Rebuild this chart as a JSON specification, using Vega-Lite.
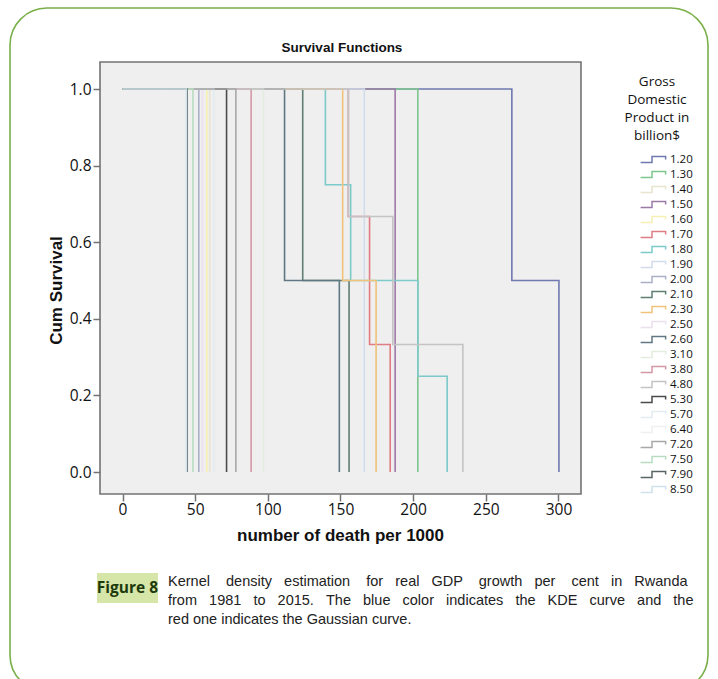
{
  "$schema": "https://vega.github.io/schema/vega-lite/v6.json",
  "width": 698,
  "height": 684,
  "autosize": {"type": "none"},
  "padding": {"left": 10, "top": 8, "right": 10, "bottom": 0},
  "background": "white",
  "config": {
    "view": {"stroke": "#7ab04a", "strokeWidth": 1.6, "cornerRadius": 37, "fill": "white"},
    "font": "Liberation Sans"
  },
  "layer": [
    {
      "data": {"values": [{}]},
      "mark": {"type": "rect", "fill": "#efefef", "stroke": "#737373", "strokeWidth": 1.6},
      "encoding": {
        "x": {
          "datum": -15.48, "type": "quantitative",
          "scale": {"domain": [-77.41, 402.87], "nice": false, "zero": false},
          "axis": {
            "orient": "bottom", "offset": -198, "domain": false, "grid": false, "zindex": 1,
            "values": [0, 50, 100, 150, 200, 250, 300],
            "tickSize": 7, "tickColor": "#737373", "tickWidth": 1.5,
            "labelFont": "Open Sans", "labelFontSize": 15.5, "labelColor": "#111", "labelPadding": 1,
            "title": "number of death per 1000", "titleFont": "Liberation Sans", "titleFontSize": 17, "titleFontWeight": "bold", "titleColor": "#111",
            "titleX": 330, "titleY": 46, "titleBaseline": "alphabetic", "titleAlign": "center"
          }
        },
        "x2": {"datum": 315.48},
        "y": {
          "datum": -0.05744, "type": "quantitative",
          "scale": {"domain": [-0.57441, 1.21149], "nice": false, "zero": false},
          "axis": {
            "orient": "left", "offset": -90, "domain": false, "grid": false, "zindex": 1,
            "values": [0, 0.2, 0.4, 0.6, 0.8, 1.0], "format": ".1f",
            "tickSize": 7, "tickColor": "#737373", "tickWidth": 1.5,
            "labelFont": "Open Sans", "labelFontSize": 15.5, "labelColor": "#111", "labelPadding": 2,
            "title": "Cum Survival", "titleFont": "Liberation Sans", "titleFontSize": 17, "titleFontWeight": "bold", "titleColor": "#111",
            "titleX": -39, "titleY": 282, "titleAngle": 270, "titleBaseline": "alphabetic", "titleAlign": "center"
          }
        },
        "y2": {"datum": 1.0705}
      }
    },
    {
      "data": {
        "values": [
          {"g": "1.20", "t": 0, "s": 1}, {"g": "1.20", "t": 267.9, "s": 0.5}, {"g": "1.20", "t": 300.3, "s": 0},
          {"g": "1.30", "t": 0, "s": 1}, {"g": "1.30", "t": 203.2, "s": 0},
          {"g": "1.40", "t": 0, "s": 1}, {"g": "1.40", "t": 60, "s": 0},
          {"g": "1.50", "t": 0, "s": 1}, {"g": "1.50", "t": 187.6, "s": 0},
          {"g": "1.60", "t": 0, "s": 1}, {"g": "1.60", "t": 58, "s": 0},
          {"g": "1.70", "t": 0, "s": 1}, {"g": "1.70", "t": 155.4, "s": 0.667}, {"g": "1.70", "t": 170, "s": 0.333}, {"g": "1.70", "t": 184.2, "s": 0},
          {"g": "1.80", "t": 0, "s": 1}, {"g": "1.80", "t": 139.6, "s": 0.75}, {"g": "1.80", "t": 157, "s": 0.5}, {"g": "1.80", "t": 203.2, "s": 0.25}, {"g": "1.80", "t": 223.4, "s": 0},
          {"g": "1.90", "t": 0, "s": 1}, {"g": "1.90", "t": 166.4, "s": 0},
          {"g": "2.00", "t": 0, "s": 1}, {"g": "2.00", "t": 52.5, "s": 0},
          {"g": "2.10", "t": 0, "s": 1}, {"g": "2.10", "t": 124, "s": 0.5}, {"g": "2.10", "t": 155.9, "s": 0},
          {"g": "2.30", "t": 0, "s": 1}, {"g": "2.30", "t": 151.5, "s": 0.5}, {"g": "2.30", "t": 174.5, "s": 0},
          {"g": "2.50", "t": 0, "s": 1}, {"g": "2.50", "t": 55, "s": 0},
          {"g": "2.60", "t": 0, "s": 1}, {"g": "2.60", "t": 111.5, "s": 0.5}, {"g": "2.60", "t": 149.2, "s": 0},
          {"g": "3.10", "t": 0, "s": 1}, {"g": "3.10", "t": 97, "s": 0},
          {"g": "3.80", "t": 0, "s": 1}, {"g": "3.80", "t": 88.5, "s": 0},
          {"g": "4.80", "t": 0, "s": 1}, {"g": "4.80", "t": 155.4, "s": 0.667}, {"g": "4.80", "t": 186, "s": 0.333}, {"g": "4.80", "t": 234.2, "s": 0},
          {"g": "5.30", "t": 0, "s": 1}, {"g": "5.30", "t": 71.6, "s": 0},
          {"g": "5.70", "t": 0, "s": 1}, {"g": "5.70", "t": 63, "s": 0},
          {"g": "6.40", "t": 0, "s": 1}, {"g": "6.40", "t": 30, "s": 0},
          {"g": "7.20", "t": 0, "s": 1}, {"g": "7.20", "t": 78, "s": 0},
          {"g": "7.50", "t": 0, "s": 1}, {"g": "7.50", "t": 48.5, "s": 0},
          {"g": "7.90", "t": 0, "s": 1}, {"g": "7.90", "t": 44.5, "s": 0},
          {"g": "8.50", "t": 0, "s": 1}, {"g": "8.50", "t": 44, "s": 0}
        ]
      },
      "mark": {"type": "line", "interpolate": "step-after", "strokeWidth": 1.6},
      "encoding": {
        "x": {
          "field": "t", "type": "quantitative",
          "scale": {"domain": [-77.41, 402.87], "nice": false, "zero": false},
          "axis": {
            "orient": "bottom", "offset": -198, "domain": false, "grid": false, "zindex": 1,
            "values": [0, 50, 100, 150, 200, 250, 300],
            "tickSize": 7, "tickColor": "#737373", "tickWidth": 1.5,
            "labelFont": "Open Sans", "labelFontSize": 15.5, "labelColor": "#111", "labelPadding": 1,
            "title": "number of death per 1000", "titleFont": "Liberation Sans", "titleFontSize": 17, "titleFontWeight": "bold", "titleColor": "#111",
            "titleX": 330, "titleY": 46, "titleBaseline": "alphabetic", "titleAlign": "center"
          }
        },
        "y": {
          "field": "s", "type": "quantitative",
          "scale": {"domain": [-0.57441, 1.21149], "nice": false, "zero": false},
          "axis": {
            "orient": "left", "offset": -90, "domain": false, "grid": false, "zindex": 1,
            "values": [0, 0.2, 0.4, 0.6, 0.8, 1.0], "format": ".1f",
            "tickSize": 7, "tickColor": "#737373", "tickWidth": 1.5,
            "labelFont": "Open Sans", "labelFontSize": 15.5, "labelColor": "#111", "labelPadding": 2,
            "title": "Cum Survival", "titleFont": "Liberation Sans", "titleFontSize": 17, "titleFontWeight": "bold", "titleColor": "#111",
            "titleX": -39, "titleY": 282, "titleAngle": 270, "titleBaseline": "alphabetic", "titleAlign": "center"
          }
        },
        "color": {
          "field": "g", "type": "nominal",
          "scale": {
            "domain": ["1.20", "1.30", "1.40", "1.50", "1.60", "1.70", "1.80", "1.90", "2.00", "2.10", "2.30", "2.50", "2.60", "3.10", "3.80", "4.80", "5.30", "5.70", "6.40", "7.20", "7.50", "7.90", "8.50"],
            "range": ["#6f78b0", "#7cc68c", "#e8e4cf", "#9c7aa8", "#f6f0b4", "#e07c84", "#7ccaca", "#d3dcec", "#aab0c8", "#5f7f72", "#f0c27a", "#ece0ee", "#5f7882", "#e2eddd", "#d398a8", "#c4c4c4", "#4a4a4a", "#e3ecf0", "#f0f0f0", "#a8a8a8", "#b8dcc0", "#5a6464", "#cfe2ea"]
          },
          "legend": {
            "orient": "none", "legendX": 612, "legendY": 67,
            "title": ["Gross", "Domestic", "Product in", "billion$"],
            "titleFont": "Open Sans", "titleFontSize": 13.5, "titleFontWeight": "normal", "titleColor": "#111",
            "titleLineHeight": 18, "titleAlign": "center", "titleAnchor": "middle", "titlePadding": 10,
            "symbolType": "M-2.4,0.5H-0.5V-0.5H1.77V0", "symbolSize": 144, "symbolStrokeWidth": 1.5,
            "symbolFillColor": "transparent", "symbolOffset": 26,
            "labelFont": "Open Sans", "labelFontSize": 11.5, "labelColor": "#111", "labelOffset": 8,
            "rowPadding": 2
          }
        },
        "order": {"field": "t", "type": "quantitative"}
      }
    },
    {
      "data": {"values": [{"label": "Survival Functions"}]},
      "mark": {"type": "text", "font": "Liberation Sans", "fontSize": 13.5, "fontWeight": "bold", "color": "#111", "align": "center", "baseline": "alphabetic"},
      "encoding": {
        "text": {"field": "label"},
        "x": {"datum": 151.03, "type": "quantitative"},
        "y": {"datum": 1.09661, "type": "quantitative"}
      }
    },
    {
      "data": {"values": [{}]},
      "mark": {"type": "rect", "fill": "#d5e6a8"},
      "encoding": {
        "x": {"datum": -17.55, "type": "quantitative"},
        "x2": {"datum": 24.43},
        "y": {"datum": -0.26371, "type": "quantitative"},
        "y2": {"datum": -0.34204}
      }
    },
    {
      "data": {"values": [{"label": "Figure 8"}]},
      "mark": {"type": "text", "font": "Open Sans", "fontSize": 15.5, "fontWeight": "bold", "color": "#1d3a0c", "align": "center", "baseline": "middle"},
      "encoding": {
        "text": {"field": "label"},
        "x": {"datum": 3.44, "type": "quantitative"},
        "y": {"datum": -0.30287, "type": "quantitative"}
      }
    },
    {
      "data": {"values": [{"label": "Kernel \u00a0\u00a0\u00a0density \u00a0\u00a0estimation \u00a0\u00a0\u00a0for \u00a0\u00a0real \u00a0\u00a0GDP \u00a0\u00a0\u00a0growth \u00a0\u00a0per \u00a0\u00a0\u00a0cent \u00a0\u00a0in \u00a0\u00a0Rwanda\nfrom \u00a0\u00a01981 \u00a0\u00a0to \u00a0\u00a02015. \u00a0\u00a0The \u00a0\u00a0blue \u00a0\u00a0color \u00a0\u00a0indicates \u00a0\u00a0the \u00a0\u00a0KDE \u00a0\u00a0curve \u00a0\u00a0and \u00a0\u00a0the\nred one indicates the Gaussian curve."}]},
      "mark": {"type": "text", "font": "Liberation Sans", "fontSize": 14.5, "color": "#222", "align": "left", "baseline": "alphabetic", "lineBreak": "\n", "lineHeight": 19},
      "encoding": {
        "text": {"field": "label"},
        "x": {"datum": 31.31, "type": "quantitative"},
        "y": {"datum": -0.29765, "type": "quantitative"}
      }
    }
  ]
}
